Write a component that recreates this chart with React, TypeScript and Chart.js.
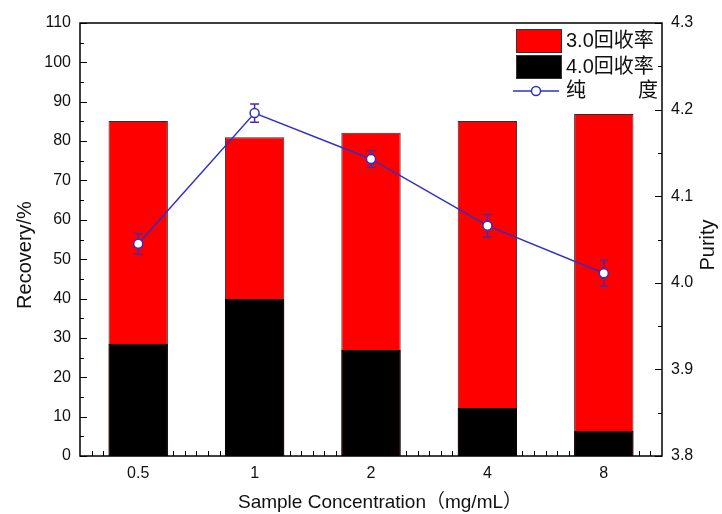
import { useEffect, useRef } from 'react';
import { Chart, registerables } from 'chart.js';

Chart.register(...registerables);

const categories = ['0.5', '1', '2', '4', '8'];
const recovery30 = [85.1, 81.0, 82.1, 85.1, 86.9];
const recovery40 = [28.5, 39.9, 26.9, 12.2, 6.4];
const purity = [4.045, 4.196, 4.143, 4.066, 4.011];
const purityErr = [0.012, 0.0105, 0.0095, 0.013, 0.015];
const legendLabels = ['3.0回收率', '4.0回收率', '纯度'];
const xTitle = 'Sample Concentration（mg/mL）';
const yTitle = 'Recovery/%';
const y2Title = 'Purity';

const FONT = '"Liberation Sans", Arial, "Noto Sans CJK SC", sans-serif';
const LINE_COLOR = '#3030c8';
const ERR_COLOR = '#4a2ca6';

const decorPlugin = {
  id: 'decor',
  beforeDatasetsDraw(chart: any) {
    const { ctx, chartArea } = chart;
    const { left, right, bottom } = chartArea;
    ctx.save();
    ctx.strokeStyle = '#000';
    ctx.lineWidth = 1;
    const n = 50;
    const step = (right - left) / n;
    for (let k = 1; k < n; k++) {
      const px = Math.round(left + k * step) + 0.5;
      ctx.beginPath();
      ctx.moveTo(px, bottom);
      ctx.lineTo(px, bottom - 5);
      ctx.stroke();
    }
    ctx.restore();
  },
  beforeDatasetDraw(chart: any, args: any) {
    if (args.index !== 2) return;
    const { ctx } = chart;
    const xS = chart.scales.x;
    const yS = chart.scales.y2;
    ctx.save();
    ctx.strokeStyle = ERR_COLOR;
    ctx.lineWidth = 1.5;
    purity.forEach((v, i) => {
      const px = xS.getPixelForValue(i);
      const top = yS.getPixelForValue(v + purityErr[i]);
      const bot = yS.getPixelForValue(v - purityErr[i]);
      ctx.beginPath();
      ctx.moveTo(px, top);
      ctx.lineTo(px, bot);
      ctx.moveTo(px - 4.5, top);
      ctx.lineTo(px + 4.5, top);
      ctx.moveTo(px - 4.5, bot);
      ctx.lineTo(px + 4.5, bot);
      ctx.stroke();
    });
    ctx.restore();
  },
  afterDraw(chart: any) {
    const { ctx, chartArea } = chart;
    const { left, right, top, bottom } = chartArea;
    const yS = chart.scales.y;
    const y2S = chart.scales.y2;
    ctx.save();
    ctx.strokeStyle = '#000';
    ctx.lineWidth = 1;
    for (let i = 0; i <= 22; i++) {
      const py = Math.round(yS.getPixelForValue(i * 5)) + 0.5;
      const len = i % 2 === 0 ? 7 : 4;
      ctx.beginPath();
      ctx.moveTo(left, py);
      ctx.lineTo(left + len, py);
      ctx.stroke();
    }
    for (let i = 0; i <= 10; i++) {
      const py = Math.round(y2S.getPixelForValue(3.8 + i * 0.05)) + 0.5;
      const len = i % 2 === 0 ? 7 : 4;
      ctx.beginPath();
      ctx.moveTo(right - len, py);
      ctx.lineTo(right, py);
      ctx.stroke();
    }
    ctx.lineWidth = 1.5;
    ctx.strokeRect(left, top, right - left, bottom - top);

    // legend
    const ds = chart.data.datasets;
    ctx.lineWidth = 1;
    ctx.fillStyle = ds[0].backgroundColor;
    ctx.fillRect(516, 29, 45, 23);
    ctx.strokeStyle = '#333';
    ctx.strokeRect(516.5, 29.5, 45, 23);
    ctx.fillStyle = ds[1].backgroundColor;
    ctx.fillRect(516, 55, 45, 23);
    ctx.strokeRect(516.5, 55.5, 45, 23);
    ctx.strokeStyle = LINE_COLOR;
    ctx.lineWidth = 1.5;
    ctx.beginPath();
    ctx.moveTo(513, 91);
    ctx.lineTo(559, 91);
    ctx.stroke();
    ctx.beginPath();
    ctx.arc(536, 91, 4.5, 0, Math.PI * 2);
    ctx.fillStyle = '#fff';
    ctx.fill();
    ctx.stroke();
    ctx.fillStyle = '#111';
    ctx.font = `20px ${FONT}`;
    ctx.textBaseline = 'middle';
    ctx.textAlign = 'left';
    ctx.fillText(legendLabels[0], 566, 41);
    ctx.fillText(legendLabels[1], 566, 67);
    const pl = legendLabels[2];
    ctx.fillText(pl[0], 566, 91);
    ctx.textAlign = 'right';
    ctx.fillText(pl[pl.length - 1], 658, 91);

    // titles
    ctx.fillStyle = '#111';
    ctx.font = `20px ${FONT}`;
    ctx.textAlign = 'center';
    ctx.textBaseline = 'middle';
    ctx.save();
    ctx.font = `19px ${FONT}`;
    ctx.fillText(xTitle, 380, 503);
    ctx.restore();
    ctx.save();
    ctx.translate(25, 255);
    ctx.rotate(-Math.PI / 2);
    ctx.fillText(yTitle, 0, 0);
    ctx.restore();
    ctx.save();
    ctx.translate(708, 245);
    ctx.rotate(-Math.PI / 2);
    ctx.fillText(y2Title, 0, 0);
    ctx.restore();
    ctx.restore();
  },
};

export default function App() {
  const ref = useRef<HTMLCanvasElement>(null);
  useEffect(() => {
    document.body.style.margin = '0';
    const chart = new Chart(ref.current!, {
      type: 'bar',
      data: {
        labels: categories,
        datasets: [
          {
            type: 'bar',
            label: legendLabels[0],
            data: recovery30,
            backgroundColor: '#ff0000',
            borderColor: '#3a2a2a',
            borderWidth: 1,
            yAxisID: 'y',
            order: 2,
            barPercentage: 0.51,
            categoryPercentage: 1,
          },
          {
            type: 'bar',
            label: legendLabels[1],
            data: recovery40,
            backgroundColor: '#000000',
            borderColor: '#000000',
            borderWidth: 1,
            yAxisID: 'y',
            order: 1,
            barPercentage: 0.51,
            categoryPercentage: 1,
          },
          {
            type: 'line',
            label: legendLabels[2],
            data: purity,
            borderColor: LINE_COLOR,
            borderWidth: 1.5,
            pointRadius: 4.5,
            pointBackgroundColor: '#ffffff',
            pointBorderColor: LINE_COLOR,
            pointBorderWidth: 1.5,
            yAxisID: 'y2',
            order: 0,
            tension: 0,
          },
        ] as any,
      },
      options: {
        animation: false,
        responsive: false,
        layout: { padding: { top: 23, left: 0, right: 0, bottom: 0 } },
        plugins: { legend: { display: false }, tooltip: { enabled: false } },
        scales: {
          x: {
            type: 'category',
            stacked: true,
            offset: true,
            grid: { display: false, drawTicks: false },
            border: { display: false },
            ticks: { font: { family: FONT, size: 16 }, color: '#111', padding: 8 },
            afterFit: (s: any) => { s.height = 58; },
          },
          y: {
            type: 'linear',
            position: 'left',
            stacked: false,
            min: 0,
            max: 110,
            grid: { display: false, drawTicks: false },
            border: { display: false },
            ticks: { stepSize: 10, font: { family: FONT, size: 16 }, color: '#111', padding: 9 },
            afterFit: (s: any) => { s.width = 80; },
          },
          y2: {
            type: 'linear',
            position: 'right',
            min: 3.8,
            max: 4.3,
            grid: { display: false, drawTicks: false },
            border: { display: false },
            ticks: {
              stepSize: 0.1,
              font: { family: FONT, size: 16 },
              color: '#111',
              padding: 9,
              callback: (v: any) => Number(v).toFixed(1),
            },
            afterFit: (s: any) => { s.width = 60; },
          },
        },
      } as any,
      plugins: [decorPlugin],
    });
    return () => chart.destroy();
  }, []);
  return <canvas ref={ref} width={722} height={514} />;
}
